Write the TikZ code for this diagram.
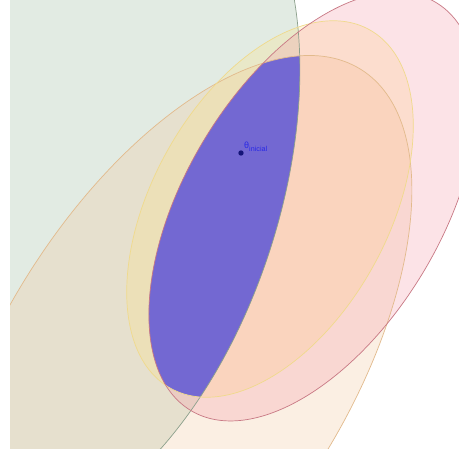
\documentclass[tikz,border=0pt]{standalone}
\usepackage{fontspec}
\newfontfamily\labfont{Liberation Sans}
\definecolor{gbase}{RGB}{143,179,147}
\definecolor{tbase}{RGB}{243,195,147}
\definecolor{ybase}{RGB}{255,225,120}
\definecolor{rbase}{RGB}{247,147,163}
\definecolor{gline}{RGB}{140,160,140}
\definecolor{tline}{RGB}{226,186,140}
\definecolor{yline}{RGB}{240,218,140}
\definecolor{rline}{RGB}{200,120,132}
\definecolor{bluefill}{RGB}{115,104,210}
\definecolor{dotcol}{RGB}{20,20,120}
\definecolor{labblue}{RGB}{40,40,230}
\tikzset{
  soft/.style={fill opacity=0.25},
  edge/.style={line width=0.7pt},
  ellG/.style={rotate around={72:(79.5,189)}},
  ellT/.style={rotate around={58:(174.3,367.9)}},
  ellY/.style={rotate around={61:(270,209)}},
  ellR/.style={rotate around={59:(313.4,206.5)}}
}
\begin{document}
\begin{tikzpicture}[x=1pt,y=-1pt]
\useasboundingbox (0,0) rectangle (459,458);
\fill[white] (0,0) rectangle (459,458);
\begin{scope}
\clip (10,0) rectangle (459,448);
% fills
\fill[ellG,gbase,soft] (79.5,189) ellipse (360 and 200);
\fill[ellT,tbase,soft] (174.3,367.9) ellipse (352 and 173.5);
\fill[ellY,ybase,soft] (270,209) ellipse (205 and 118);
\fill[ellR,rbase,soft] (313.4,206.5) ellipse (238 and 128);
% intersection
\begin{scope}
\clip[ellG] (79.5,189) ellipse (360 and 200);
\clip[ellT] (174.3,367.9) ellipse (352 and 173.5);
\clip[ellY] (270,209) ellipse (205 and 118);
\clip[ellR] (313.4,206.5) ellipse (238 and 128);
\fill[bluefill] (0,0) rectangle (459,458);
\end{scope}
% outlines
\draw[ellG,gline,edge] (79.5,189) ellipse (360 and 200);
\draw[ellT,tline,edge] (174.3,367.9) ellipse (352 and 173.5);
\draw[ellY,yline,edge] (270,209) ellipse (205 and 118);
\draw[ellR,rline,edge] (313.4,206.5) ellipse (238 and 128);
\end{scope}
% point
\coordinate (p) at (241,153);
\fill[dotcol] (p) circle (2.7);
\node[anchor=base west,inner sep=0,text=labblue,font=\labfont] (lbl) at (244,148)
  {\fontsize{9}{9}\selectfont θ\raisebox{-3pt}{\fontsize{7.2}{7.2}\selectfont inicial}};
\end{tikzpicture}
\end{document}
